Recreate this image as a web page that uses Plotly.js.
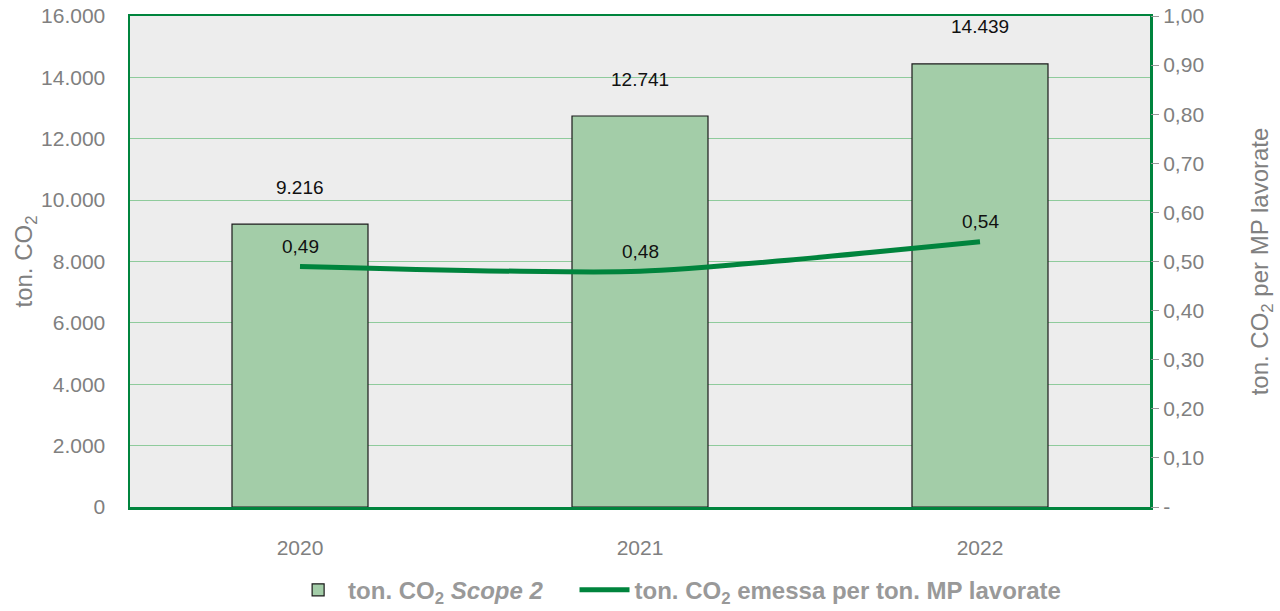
<!DOCTYPE html>
<html><head><meta charset="utf-8">
<script src="https://cdn.plot.ly/plotly-3.0.1.min.js"></script>
<style>html,body{margin:0;padding:0;background:#fff}#chart{width:1280px;height:611px}</style>
</head><body><div id="chart"></div>
<script>
const years = ['2020', '2021', '2022'];
const scope2 = [9216, 12741, 14439];
const intensity = [0.49, 0.48, 0.54];
const scope2Labels = ['9.216', '12.741', '14.439'];
const intensityLabels = ['0,49', '0,48', '0,54'];
const leftTicks = [0, 2000, 4000, 6000, 8000, 10000, 12000, 14000, 16000];
const leftTickText = ['0', '2.000', '4.000', '6.000', '8.000', '10.000', '12.000', '14.000', '16.000'];
const rightTicks = [0, 0.1, 0.2, 0.3, 0.4, 0.5, 0.6, 0.7, 0.8, 0.9, 1.0];
const rightTickText = ['-', '0,10', '0,20', '0,30', '0,40', '0,50', '0,60', '0,70', '0,80', '0,90', '1,00'];

const green = '#00843D';
const font = 'Liberation Sans, Arial, Helvetica, sans-serif';

const traces = [
  {
    type: 'bar', x: years, y: scope2, name: 'ton. CO<sub>2</sub> <i>Scope 2</i>\u00a0\u00a0\u00a0\u00a0',
    marker: {color: '#A3CDA8', line: {color: '#1a1a1a', width: 1.2}},
    width: 0.4, hoverinfo: 'skip'
  },
  {
    type: 'scatter', mode: 'lines', x: years, y: intensity, yaxis: 'y2',
    name: 'ton. CO<sub>2</sub> emessa per ton. MP lavorate',
    line: {color: green, width: 5, shape: 'spline', smoothing: 0.6},
    hoverinfo: 'skip'
  }
];

const annotations = [];
years.forEach((yr, i) => {
  annotations.push({x: i, y: scope2[i], xref: 'x', yref: 'y', text: scope2Labels[i],
    showarrow: false, yshift: 37, font: {family: font, size: 19, color: '#111'}});
  annotations.push({x: i, y: intensity[i], xref: 'x', yref: 'y2', text: intensityLabels[i],
    showarrow: false, yshift: 20, font: {family: font, size: 19, color: '#111'}});
});

const layout = {
  width: 1280, height: 611,
  margin: {l: 130, r: 130, t: 16, b: 104},
  paper_bgcolor: '#ffffff', plot_bgcolor: '#EDEDED',
  font: {family: font, color: '#808080', size: 21},
  showlegend: true,
  legend: {orientation: 'h', x: 0.529, xanchor: 'center', xref: 'container', y: 0.034, yanchor: 'middle', yref: 'container',
    itemwidth: 50, font: {family: font, size: 24, color: '#999999', weight: 'bold'}},
  xaxis: {type: 'category', range: [-0.5, 2.5], showline: true, linecolor: green, linewidth: 2.5, mirror: true,
    showgrid: false, ticks: 'outside', ticklen: 20, tickcolor: 'rgba(0,0,0,0)',
    tickfont: {family: font, size: 21, color: '#808080'}},
  yaxis: {range: [0, 16000], tickvals: leftTicks, ticktext: leftTickText,
    showgrid: true, gridcolor: '#8FCB9C', gridwidth: 1, zeroline: false,
    showline: true, linecolor: green, linewidth: 2.5, mirror: true,
    ticks: 'outside', ticklen: 18, tickcolor: 'rgba(0,0,0,0)',
    tickfont: {family: font, size: 21, color: '#808080'},
    title: {text: 'ton. CO<sub>2</sub>', font: {family: font, size: 24, color: '#808080'}, standoff: 2}},
  yaxis2: {range: [0, 1.0], overlaying: 'y', side: 'right', tickvals: rightTicks, ticktext: rightTickText,
    showgrid: false, zeroline: false, showline: false, ticks: 'outside', ticklen: 8, tickcolor: '#999999', tickwidth: 1,
    tickfont: {family: font, size: 21, color: '#808080'},
    title: {text: 'ton. CO<sub>2</sub> per MP lavorate', font: {family: font, size: 24, color: '#808080'}, standoff: 48}},
  annotations: annotations
};

Plotly.newPlot('chart', traces, layout, {displayModeBar: false, staticPlot: true});
</script>
</body></html>
